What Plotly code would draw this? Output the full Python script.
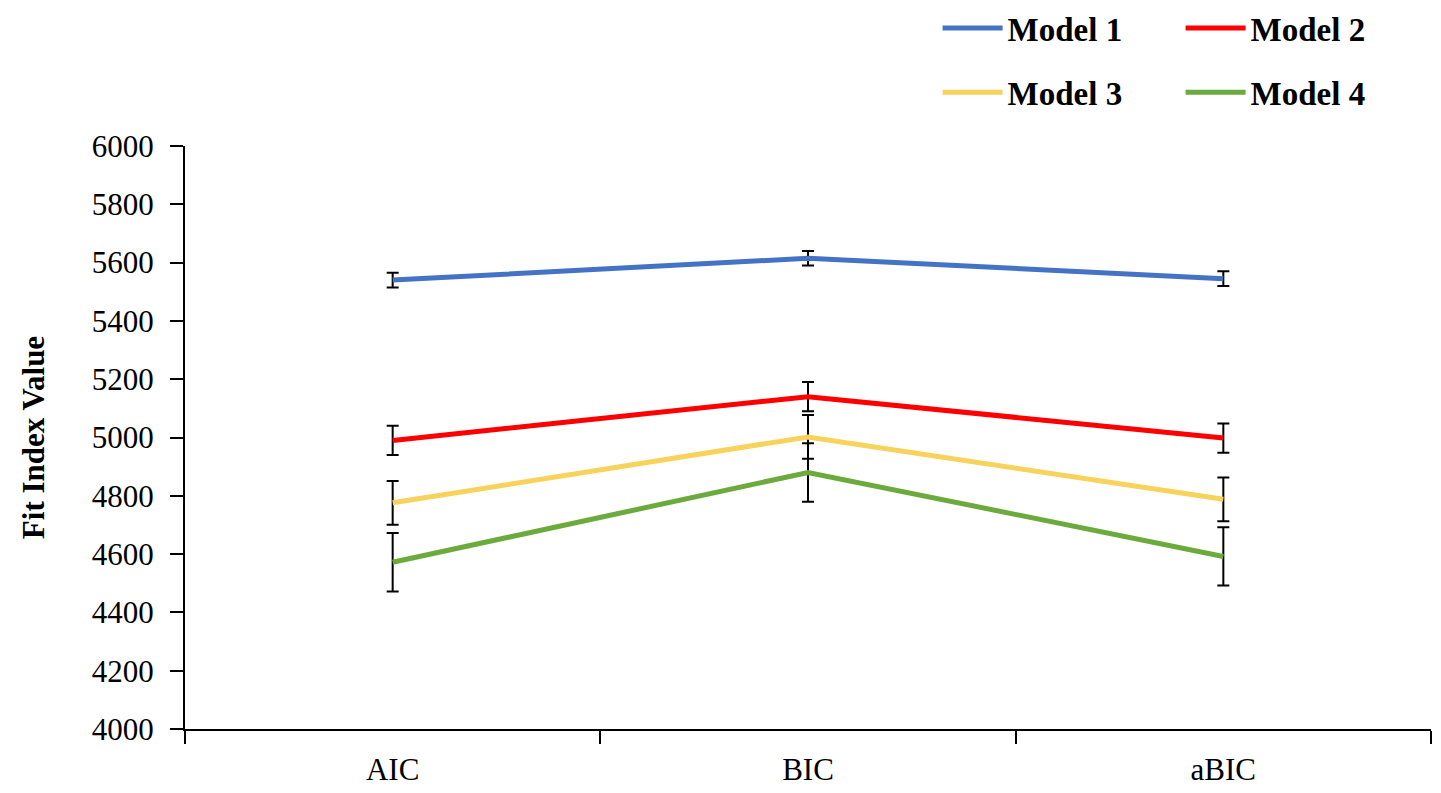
import plotly.graph_objects as go

categories = ["AIC", "BIC", "aBIC"]
model_names = ["Model 1", "Model 2", "Model 3", "Model 4"]
model1 = [5540, 5615, 5545]
model2 = [4990, 5140, 4998]
model3 = [4776, 5002, 4788]
model4 = [4572, 4880, 4592]
errors = [25, 50, 75, 100]
colors = ["#4472C4", "#FF0000", "#F7D35C", "#6BAA3C"]
y_ticks = [4000, 4200, 4400, 4600, 4800, 5000, 5200, 5400, 5600, 5800, 6000]

series = [model1, model2, model3, model4]
legend_ids = ["legend", "legend", "legend2", "legend2"]

FONT = "Liberation Serif"
fig = go.Figure()
for name, vals, err, col, lg in zip(model_names, series, errors, colors, legend_ids):
    fig.add_trace(go.Scatter(
        x=categories, y=vals, name=name, mode="lines",
        line=dict(color=col, width=5),
        error_y=dict(type="constant", value=err, color="black", thickness=2, width=6),
        legend=lg,
    ))

legend_common = dict(
    orientation="h", xanchor="left", yanchor="middle",
    font=dict(family=FONT, size=33, color="black", weight="bold"),
    itemwidth=60, entrywidth=168, entrywidthmode="pixels",
    bgcolor="rgba(0,0,0,0)", itemclick=False, itemdoubleclick=False,
)

fig.update_layout(
    width=1425, height=785,
    margin=dict(l=177, r=2, t=138, b=64, autoexpand=False),
    paper_bgcolor="white", plot_bgcolor="white",
    font=dict(family=FONT, size=31, color="black"),
    showlegend=True,
    legend=dict(x=0.604, y=1.2025, **legend_common),
    legend2=dict(x=0.604, y=1.092, **legend_common),
    xaxis=dict(
        type="category", tickson="boundaries", ticks="outside", ticklen=13,
        tickwidth=2, tickcolor="black", showline=True, linecolor="black", linewidth=2,
        showgrid=False, zeroline=False, tickfont=dict(family=FONT, size=31),
        ticklabelstandoff=12, range=[-0.5, 2.5],
    ),
    yaxis=dict(
        range=[4000, 6000], tickvals=y_ticks, ticks="outside", ticklen=13,
        tickwidth=2, tickcolor="black", showline=True, linecolor="black", linewidth=2,
        showgrid=False, zeroline=False, tickfont=dict(family=FONT, size=31),
        ticklabelstandoff=10,
        title=dict(text="Fit Index Value", font=dict(family=FONT, size=31, weight="bold"), standoff=38),
    ),
)

fig.write_html("out.html")
